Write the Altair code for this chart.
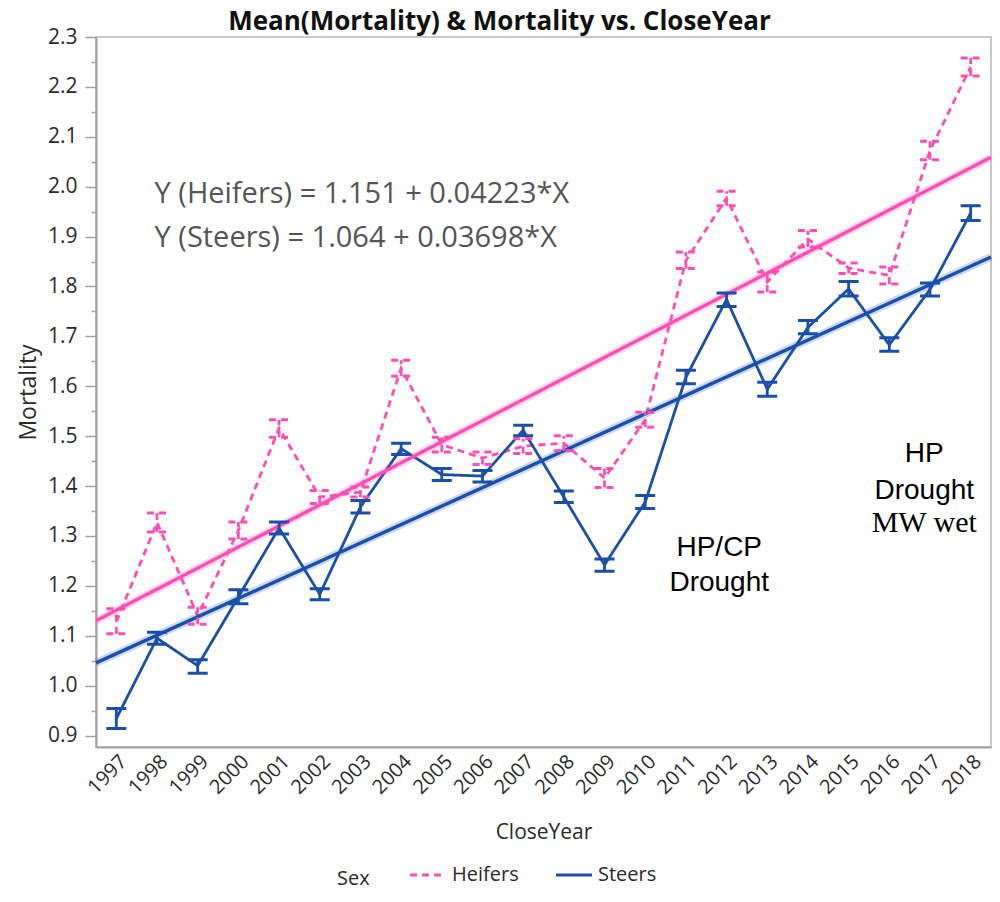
import altair as alt
import pandas as pd

# ---------------- data ----------------
years = list(range(1997, 2019))
series = ["Heifers", "Steers"]

heifer_mean = [1.128, 1.327, 1.140, 1.311, 1.516, 1.378, 1.388, 1.636, 1.483, 1.456, 1.480,
               1.486, 1.416, 1.533, 1.852, 1.977, 1.809, 1.895, 1.837, 1.822, 2.072, 2.240]
heifer_lo = [1.104, 1.308, 1.123, 1.294, 1.498, 1.365, 1.378, 1.620, 1.468, 1.443, 1.465,
             1.471, 1.397, 1.518, 1.836, 1.962, 1.789, 1.879, 1.826, 1.805, 2.054, 2.222]
heifer_hi = [1.154, 1.346, 1.157, 1.328, 1.533, 1.391, 1.398, 1.652, 1.498, 1.468, 1.495,
             1.501, 1.435, 1.548, 1.869, 1.991, 1.829, 1.912, 1.847, 1.839, 2.091, 2.258]

steer_mean = [0.934, 1.095, 1.040, 1.178, 1.316, 1.183, 1.358, 1.475, 1.423, 1.420, 1.512,
              1.378, 1.242, 1.368, 1.618, 1.774, 1.594, 1.718, 1.795, 1.683, 1.794, 1.947]
steer_lo = [0.914, 1.083, 1.025, 1.164, 1.304, 1.172, 1.346, 1.463, 1.411, 1.408, 1.501,
            1.367, 1.229, 1.355, 1.605, 1.760, 1.580, 1.705, 1.781, 1.670, 1.781, 1.932]
steer_hi = [0.954, 1.107, 1.052, 1.192, 1.328, 1.194, 1.371, 1.486, 1.435, 1.431, 1.522,
            1.390, 1.254, 1.381, 1.632, 1.787, 1.608, 1.732, 1.810, 1.697, 1.807, 1.962]

# regression: Y = a + b*X, X = CloseYear - 1997
fit_intercept = [1.151, 1.064]
fit_slope = [0.04223, 0.03698]
fit_x_range = [1996.5, 2018.5]

y_major = [0.9, 1.0, 1.1, 1.2, 1.3, 1.4, 1.5, 1.6, 1.7, 1.8, 1.9, 2.0, 2.1, 2.2, 2.3]
y_minor = [0.95, 1.05, 1.15, 1.25, 1.35, 1.45, 1.55, 1.65, 1.75, 1.85, 1.95, 2.05, 2.15, 2.25]

equations = ["Y (Heifers) = 1.151 + 0.04223*X", "Y (Steers) = 1.064 + 0.03698*X"]
eq_pos_x = [1997.94, 1997.94]
eq_pos_y = [1.986, 1.898]

sans_notes = ["HP/CP", "Drought", "HP", "Drought"]
sans_x = [2011.82, 2011.82, 2016.86, 2016.86]
sans_y = [1.275, 1.205, 1.465, 1.391]
serif_notes = ["MW wet"]
serif_x = [2016.86]
serif_y = [1.325]

# ---------------- tables ----------------
rows = []
for s, m, lo, hi in [("Heifers", heifer_mean, heifer_lo, heifer_hi),
                     ("Steers", steer_mean, steer_lo, steer_hi)]:
    for yr, a, b, c in zip(years, m, lo, hi):
        rows.append({"year": yr, "Sex": s, "mean": a, "lo": b, "hi": c})
df = pd.DataFrame(rows)

fit_rows = []
for s, a, b in zip(series, fit_intercept, fit_slope):
    for xv in fit_x_range:
        fit_rows.append({"Sex": s, "xq": xv, "fit": a + b * (xv - 1997)})
fit_df = pd.DataFrame(fit_rows)

eq_df = pd.DataFrame({"t": equations, "x": eq_pos_x, "y": eq_pos_y})
sans_df = pd.DataFrame({"t": sans_notes, "x": sans_x, "y": sans_y})
serif_df = pd.DataFrame({"t": serif_notes, "x": serif_x, "y": serif_y})

# ---------------- styles ----------------
PINK = "#ff4fb4"
BLUE = "#1a50aa"
FONT = "Open Sans"
LABEL = "#2b2b2b"
AXISC = "#a0a0a0"

xscale = alt.Scale(domain=[1996.5, 2018.5], nice=False, zero=False)
yscale = alt.Scale(domain=[0.877, 2.3], nice=False, zero=False)
cscale = alt.Scale(domain=series, range=[PINK, BLUE])
dscale = alt.Scale(domain=series, range=[[7, 5], [1, 0]])

x_axis = alt.Axis(values=years, format="d", labelAngle=-45, labelAlign="right",
                  labelBaseline="top", labelPadding=4, ticks=False, grid=False,
                  title="CloseYear", titleY=85, titleBaseline="middle",
                  labelFontSize=20, titleFontSize=21, labelFont=FONT, titleFont=FONT,
                  labelColor=LABEL, titleColor=LABEL, titleFontWeight="normal",
                  domainColor=AXISC, domainWidth=2, labelOverlap=False, labelFlush=False)
y_axis = alt.Axis(values=y_major, format=".1f", tickSize=11, tickColor=AXISC, tickWidth=1.5,
                  labelPadding=8, grid=False, title="Mortality", titlePadding=7,
                  labelFontSize=21, titleFontSize=23, labelFont=FONT, titleFont=FONT,
                  labelColor=LABEL, titleColor=LABEL, titleFontWeight="normal",
                  domainColor=AXISC, domainWidth=2, labelFlush=False)
y_minor_axis = alt.Axis(values=y_minor, labels=False, domain=False, tickSize=5,
                        tickColor=AXISC, tickWidth=1.5, title=None, grid=False, orient="left")

base = alt.Chart(df)
X = alt.X("year:Q", scale=xscale, axis=x_axis)
color_nl = alt.Color("Sex:N", scale=cscale, legend=None)
dash_nl = alt.StrokeDash("Sex:N", scale=dscale, legend=None)


def yq(field):
    return alt.Y(field, scale=yscale, axis=None)


def xq(field):
    return alt.X(field, scale=xscale)


fit_halo = alt.Chart(fit_df).mark_line(strokeWidth=8, opacity=0.22).encode(
    x=xq("xq:Q"),
    y=alt.Y("fit:Q", scale=yscale, axis=y_minor_axis),
    color=color_nl,
)
fit_line = alt.Chart(fit_df).mark_line(strokeWidth=3.4).encode(
    x=xq("xq:Q"), y=yq("fit:Q"), color=color_nl,
)

lines = base.mark_line(strokeWidth=2.8).encode(
    x=X,
    y=alt.Y("mean:Q", scale=yscale, axis=y_axis),
    color=alt.Color("Sex:N", scale=cscale,
                    legend=alt.Legend(title="Sex", orient="none", direction="horizontal",
                                      legendX=241, legendY=818, titleOrient="left",
                                      titleAnchor="end",
                                      titleFont=FONT, titleFontSize=20, titleFontWeight="normal",
                                      titleColor=LABEL, titleBaseline="alphabetic",
                                      titlePadding=38,
                                      labelFont=FONT, labelFontSize=20, labelColor=LABEL,
                                      symbolType="stroke", symbolSize=1300, symbolStrokeWidth=3,
                                      columnPadding=30, labelOffset=4, padding=0)),
    strokeDash=alt.StrokeDash("Sex:N", scale=dscale, legend=None),
)
err = base.mark_rule(strokeWidth=2.8).encode(
    x=xq("year:Q"), y=yq("lo:Q"), y2="hi:Q",
    color=color_nl, strokeDash=dash_nl,
)
cap_lo = base.mark_rule(strokeWidth=3, xOffset=-10, x2Offset=10).encode(
    x=xq("year:Q"), x2="year:Q", y=yq("lo:Q"),
    color=color_nl, strokeDash=dash_nl,
)
cap_hi = base.mark_rule(strokeWidth=3, xOffset=-10, x2Offset=10).encode(
    x=xq("year:Q"), x2="year:Q", y=yq("hi:Q"),
    color=color_nl, strokeDash=dash_nl,
)

eq_text = alt.Chart(eq_df).mark_text(align="left", baseline="middle", font=FONT,
                                     fontSize=29, color="#555555").encode(
    x=xq("x:Q"), y=yq("y:Q"), text="t:N")
sans_text = alt.Chart(sans_df).mark_text(align="center", baseline="middle",
                                         font="Liberation Sans", fontSize=28,
                                         color="#000000").encode(
    x=xq("x:Q"), y=yq("y:Q"), text="t:N")
serif_text = alt.Chart(serif_df).mark_text(align="center", baseline="middle",
                                           font="Liberation Serif", fontSize=30,
                                           color="#000000").encode(
    x=xq("x:Q"), y=yq("y:Q"), text="t:N")

chart = alt.layer(
    lines, fit_halo, fit_line, err, cap_lo, cap_hi, eq_text, sans_text, serif_text
).resolve_axis(y="independent").properties(
    width=895,
    height=710,
    autosize=alt.AutoSizeParams(type="none"),
    padding={"left": 88, "top": 29, "right": 1, "bottom": 140},
    title=alt.TitleParams("Mean(Mortality) & Mortality vs. CloseYear", font=FONT,
                          fontSize=26, fontWeight="bold", color="#111111",
                          anchor="middle", frame="group", dx=-44, offset=-9),
).configure_view(stroke="#b8b8b8", strokeWidth=1.5)

chart.save("out.html", embed_options={"renderer": "svg", "actions": False})
